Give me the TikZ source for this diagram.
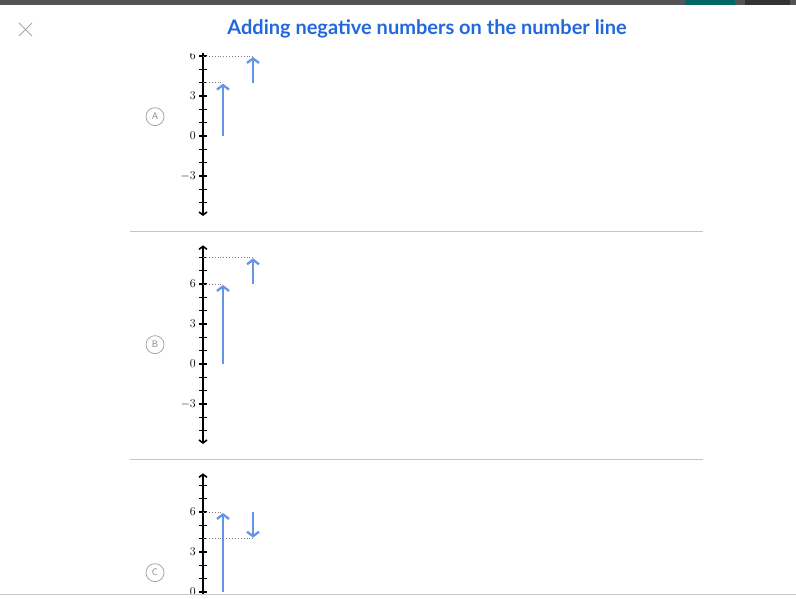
\documentclass[tikz,border=0pt]{standalone}
\usepackage{fontspec}
\newfontfamily\titrefont{Lato}
\usepackage{tikz}
\usetikzlibrary{calc,arrows.meta}
\definecolor{bleutitre}{RGB}{33,104,222}
\definecolor{bleusaut}{RGB}{100,149,232}
\definecolor{barre}{RGB}{84,84,88}
\tikzset{
	axe/.style={{Straight Barb[length=3pt,width=8pt]}-{Straight Barb[length=3pt,width=8pt]},line width=1.6pt,black},
	graduation/.style={line width=0.9pt},
	grande/.style={line width=1.9pt},
	saut/.style={-{Straight Barb[length=4.5pt,width=12pt]},line width=2.3pt,bleusaut,shorten >=1pt},
	pointille/.style={dotted,gray,line width=0.9pt},
	choix/.style={circle,draw=gray!70,line width=0.8pt,text=gray,inner sep=0pt,minimum size=18pt,font=\sffamily\fontsize{9.5}{9.5}\selectfont},
	separation/.style={draw=gray!45,line width=0.8pt},
}

\begin{document}
\begin{tikzpicture}[x=1pt,y=1pt]
			          \useasboundingbox (0,0) rectangle (796,599);
			          %bandeau du haut
			          \fill[barre] (0,594) rectangle (796,599);
			          \fill[teal!80!black] (685,594) rectangle (735,599);
			          \fill[black!80] (745,594) rectangle (790,599);
			          %croix et titre
			          \coordinate (X1) at (19,576);
			          \coordinate (X2) at (32,563);
			          \coordinate (X3) at (19,563);
			          \coordinate (X4) at (32,576);
			          \draw[gray!70,line width=0.9pt] (X1) -- (X2);
			          \draw[gray!70,line width=0.9pt] (X3) -- (X4);
			          \node[font=\titrefont\bfseries\fontsize{20}{20}\selectfont,text=bleutitre] (titre) at (427,570.5) {Adding negative numbers on the number line};
			          %separations
			          \coordinate (S1) at (130,368);
			          \coordinate (S2) at (703,368);
			          \coordinate (S3) at (130,140);
			          \coordinate (S4) at (703,140);
			          \coordinate (S5) at (0,5);
			          \coordinate (S6) at (796,5);
			          \draw[separation] (S1) -- (S2);
			          \draw[separation] (S3) -- (S4);
			          \draw[separation] (S5) -- (S6);
			          %DROITES GRADUEES
			          \begin{scope}
				  \clip (0,5.5) rectangle (796,545);
				  \foreach \nom/\yo/\a/\b in {A/463/4/6,B/235/6/8,C/7/6/4}{
				  \begin{scope}[shift={(203,\yo)},y=13.333pt]
				  \draw[axe] (0,-6) -- (0,8.9);
				  \foreach \k in {-5,...,8} \draw[graduation] (-4,\k) -- (4,\k);
				  \foreach \k in {-3,0,3,6}{
				  \draw[grande] (-4,\k) -- (4,\k);
				  \node[anchor=east,font=\fontsize{12.5}{12.5}\selectfont,inner sep=0pt] (\nom\k) at (-7,\k) {$\k$};
				  }
				  %sauts
				  \coordinate (\nom0) at (20,0);
				  \coordinate (\nom1) at (20,\a);
				  \coordinate (\nom2) at (50,\a);
				  \coordinate (\nom3) at (50,\b);
				  \coordinate (\nom a) at (0,\a);
				  \coordinate (\nom b) at (0,\b);
				  \draw[pointille] (\nom a) -- (\nom1);
				  \draw[pointille] (\nom b) -- (\nom3);
				  \draw[saut] (\nom0) -- (\nom1);
				  \draw[saut] (\nom2) -- (\nom3);
				  \node[choix] (lettre\nom) at (-48,1.45) {\nom};
				  \end{scope}
				  }
				  \end{scope}
				  \end{tikzpicture}
\end{document}
